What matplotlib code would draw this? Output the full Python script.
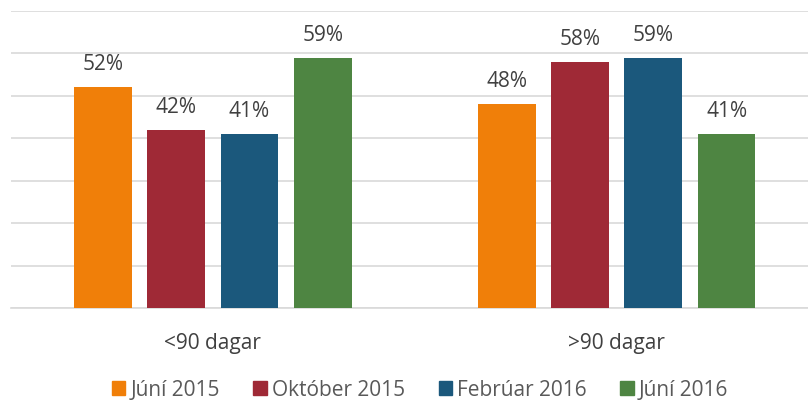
import numpy as np
import matplotlib.pyplot as plt
from matplotlib.patches import Patch

# %% data
categories = ['<90 dagar', '>90 dagar']
series = ['Júní 2015', 'Október 2015', 'Febrúar 2016', 'Júní 2016']
values = [
    [52, 48],
    [42, 58],
    [41, 59],
    [59, 41],
]
colors = ['#F07F09', '#9F2936', '#1B587C', '#4E8542']

# %% plot
plt.rcParams['font.family'] = ['Open Sans', 'DejaVu Sans']
fig = plt.figure(figsize=(8.08, 4.02), dpi=100)
ax = fig.add_axes([11/808, 93/402, 797/808, 297/402])

x = np.arange(len(categories))
pitch = 0.1816
width = 0.143
for i, (name, vals) in enumerate(zip(series, values)):
    pos = x + (i - 1.5) * pitch
    bars = ax.bar(pos, vals, width, color=colors[i], label=name, zorder=3)
    for b, v in zip(bars, vals):
        ax.annotate('{}%'.format(v), (b.get_x() + b.get_width()/2, v),
                    xytext=(0, 13), textcoords='offset points',
                    ha='center', va='baseline', fontsize=15, color='#404040')

ax.set_xlim(-0.5, 1.474)
ax.set_ylim(0, 70)
ax.set_yticks(np.arange(0, 71, 10))
ax.yaxis.grid(True, color='#d9d9d9', linewidth=1.2, zorder=0)
ax.tick_params(axis='y', left=False, labelleft=False)
ax.tick_params(axis='x', bottom=False, pad=13.5, labelsize=15, labelcolor='#404040')
ax.set_xticks(x)
ax.set_xticklabels(categories)
for s in ['top', 'right', 'left']:
    ax.spines[s].set_visible(False)
ax.spines['bottom'].set_color('#d9d9d9')
ax.spines['bottom'].set_linewidth(1.2)

handles = [Patch(color=c, label=s) for c, s in zip(colors, series)]
fig.legend(handles=handles, loc='center', bbox_to_anchor=(0.52, 11/402), ncol=4,
           frameon=False, fontsize=15, handlelength=0.65, handleheight=0.65,
           handletextpad=0.25, columnspacing=1.6, labelcolor='#595959')

fig.savefig('out.png', dpi=100)
